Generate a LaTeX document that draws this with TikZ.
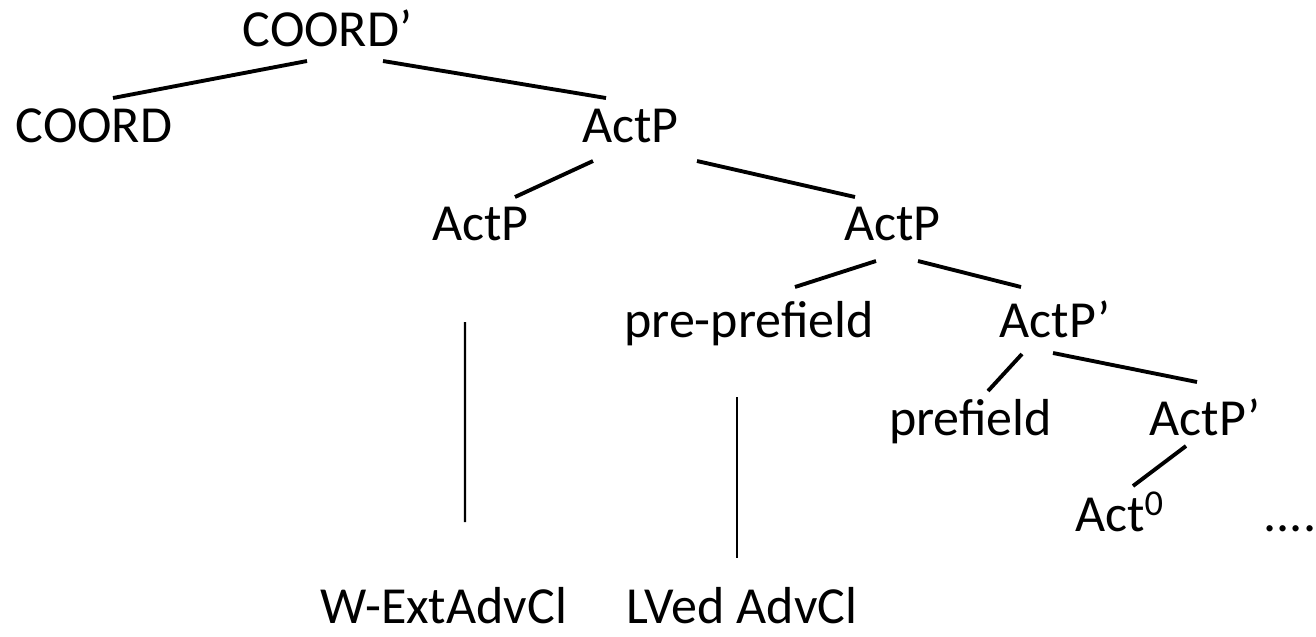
\documentclass[tikz,border=0pt]{standalone}
\usepackage{fontspec}
\setmainfont{Carlito}
\usepackage{tikz}

\begin{document}
\begin{tikzpicture}[
        lbl/.style={font=\fontsize{29.6pt}{35pt}\selectfont, inner sep=0pt, anchor=base},
        branch/.style={line width=2.2pt},
        stem/.style={line width=1.2pt}]
        \useasboundingbox (0,0) rectangle (26.32,-12.72);

        % Top of the tree
        \node[lbl] (coordp) at (6.55,-0.92) {COORD’};
        \node[lbl] (coord) at (1.88,-2.84) {COORD};
        \node[lbl] (actA) at (12.61,-2.84) {ActP};
        \draw[branch] ([shift={(-0.41,-0.30)}]coordp.base) -- ([shift={(0.38,0.88)}]coord.base);
        \draw[branch] ([shift={(1.11,-0.30)}]coordp.base) -- ([shift={(-0.49,0.88)}]actA.base);

        % Adjoined ActP
        \node[lbl] (actB) at (9.61,-4.80) {ActP};
        \node[lbl] (actC) at (17.85,-4.80) {ActP};
        \draw[branch] ([shift={(-0.75,-0.38)}]actA.base) -- ([shift={(0.69,0.86)}]actB.base);
        \draw[branch] ([shift={(1.33,-0.38)}]actA.base) -- ([shift={(-0.75,0.86)}]actC.base);

        % Fields
        \node[lbl] (prepre) at (14.98,-6.74) {pre-prefield};
        \node[lbl] (actpA) at (21.10,-6.74) {ActP’};
        \draw[branch] ([shift={(-0.33,-0.42)}]actC.base) -- ([shift={(0.92,1.00)}]prepre.base);
        \draw[branch] ([shift={(0.51,-0.42)}]actC.base) -- ([shift={(-0.68,1.00)}]actpA.base);

        \node[lbl] (pref) at (19.41,-8.70) {prefield};
        \node[lbl] (actpB) at (24.10,-8.70) {ActP’};
        \draw[branch] ([shift={(-0.66,-0.34)}]actpA.base) -- ([shift={(0.35,0.88)}]pref.base);
        \draw[branch] ([shift={(-0.04,-0.32)}]actpA.base) -- ([shift={(-0.16,1.06)}]actpB.base);

        \node[lbl] (act0) at (22.39,-10.62) {Act\textsuperscript{0}};
        \node[lbl] (dots) at (25.80,-10.62) {....};
        \draw[branch] ([shift={(-0.38,-0.22)}]actpB.base) -- ([shift={(0.27,0.90)}]act0.base);

        % Adverbial clauses
        \node[lbl] (wext) at (8.88,-12.46) {W-ExtAdvCl};
        \node[lbl] (lved) at (14.84,-12.46) {LVed AdvCl};
        \draw[stem] ([shift={(-0.31,-1.64)}]actB.base) -- ([shift={(0.42,2.02)}]wext.base);
        \draw[stem] ([shift={(-0.24,-1.20)}]prepre.base) -- ([shift={(-0.10,1.30)}]lved.base);
    \end{tikzpicture}
\end{document}
